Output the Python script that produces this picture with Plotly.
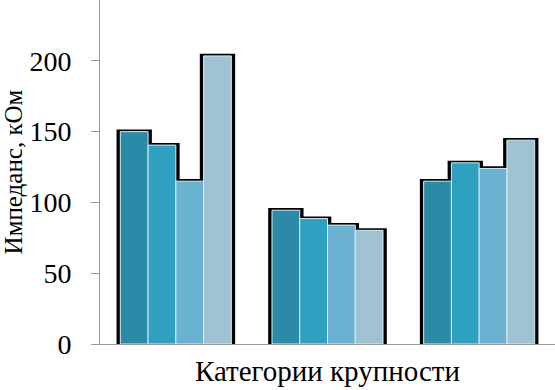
import plotly.graph_objects as go

categories = ["Категория 1", "Категория 2", "Категория 3"]
series_names = ["Серия 1", "Серия 2", "Серия 3", "Серия 4"]
series_values = [
    [150, 94.5, 115],
    [140.5, 88.6, 128],
    [115, 84, 124],
    [203.5, 80.3, 144],
]
colors = ["#2b8aa6", "#30a0c1", "#6bb1d1", "#a1c2d3"]
y_ticks = [0, 50, 100, 150, 200]

bar_w = 0.183
start = -0.366

fig = go.Figure()

# shadows behind bars
for i, vals in enumerate(series_values):
    fig.add_trace(go.Bar(
        x=categories, y=[v + 1.5 for v in vals],
        width=bar_w + 0.05, offset=start + i * bar_w - 0.025,
        marker=dict(color="#000000", line=dict(width=0)),
        showlegend=False, hoverinfo="skip",
    ))

for i, vals in enumerate(series_values):
    fig.add_trace(go.Bar(
        x=categories, y=vals, name=series_names[i],
        width=bar_w, offset=start + i * bar_w,
        marker=dict(color=colors[i], line=dict(color="#d6eef6", width=1)),
    ))

font_fam = "Liberation Serif, Times New Roman, serif"
fig.update_layout(
    barmode="overlay",
    width=555, height=390,
    margin=dict(l=100, r=0, t=0, b=46),
    plot_bgcolor="white", paper_bgcolor="white",
    showlegend=False,
    font=dict(family=font_fam, color="black", size=28),
    xaxis=dict(
        range=[-0.5, 2.5], showticklabels=False, ticks="",
        showline=True, linecolor="#999999", linewidth=1, showgrid=False,
        title=dict(text="Категории крупности", font=dict(size=29, family=font_fam), standoff=16),
    ),
    yaxis=dict(
        range=[0, 243], tickvals=y_ticks, ticks="outside", ticklen=8,
        tickcolor="#999999", showline=True, linecolor="#999999", linewidth=1,
        showgrid=False, zeroline=False, ticklabelstandoff=14,
        tickfont=dict(size=28, family=font_fam),
        title=dict(text="Импеданс, кОм", font=dict(size=25, family=font_fam), standoff=4),
    ),
)

fig.write_html("out.html", config={"displayModeBar": False},
               post_script="document.body.style.margin='0';")
